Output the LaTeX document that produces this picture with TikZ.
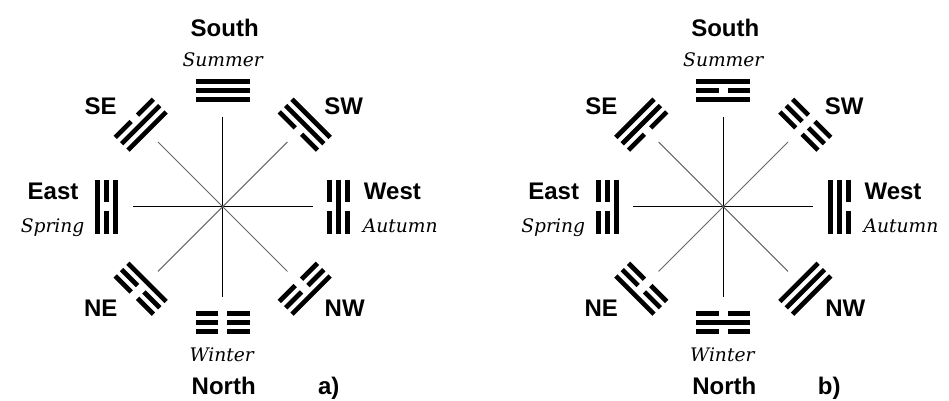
\documentclass[tikz,border=0pt]{standalone}
\usepackage{fontspec}
\setmainfont{Liberation Sans}
\newfontfamily\seasonfont{DejaVu Serif}

\tikzset{
  dir/.style={font=\fontsize{18}{20}\selectfont\bfseries, inner sep=0pt},
  season/.style={font=\seasonfont\itshape\fontsize{14}{16}\selectfont, inner sep=0pt},
  spoke/.style={line width=0.75pt},
  diag/.style={line width=0.75pt, black!60},
  yao/.style={line width=3.5pt}
}

% trigram round centre #1 at angle #2, lines #3 #4 #5 from inside out (1 whole, 0 broken)
\newcommand{\trigram}[5]{%
  \begin{scope}[shift={(#1)}, rotate=#2-90]
    \foreach \s [count=\i] in {#3,#4,#5}{
      \pgfmathsetmacro{\rad}{98+9*\i}
      \ifnum\s=1
        \draw[yao] (-27,\rad) -- (27,\rad);
      \else
        \draw[yao] (-27,\rad) -- (-4.5,\rad) (4.5,\rad) -- (27,\rad);
      \fi
    }
  \end{scope}}

\begin{document}
\begin{tikzpicture}[x=0.75pt, y=0.75pt]
  \useasboundingbox (0,0) rectangle (949,400);
  \coordinate (ca) at (222.7,193.3);
  \coordinate (cb) at (723.3,193.3);

  % spokes and labels, same in both
  \foreach \c/\tag in {ca/a), cb/b)}{
    \foreach \a in {0,90,180,270}
      \draw[spoke] (\c) -- ++(\a:90);
    \foreach \a in {45,135,225,315}
      \draw[diag] (\c) -- ++(\a:91.5);
    \node[dir, anchor=base] (\c-s) at ([shift={(2,170)}]\c) {South};
    \node[season, anchor=base] (\c-su) at ([shift={(0,140)}]\c) {Summer};
    \node[dir, anchor=base] (\c-se) at ([shift={(-122,92)}]\c) {SE};
    \node[dir, anchor=base] (\c-sw) at ([shift={(121,92)}]\c) {SW};
    \node[dir, anchor=base east] (\c-e) at ([shift={(-144,7)}]\c) {East};
    \node[season, anchor=base east] (\c-sp) at ([shift={(-138,-26)}]\c) {Spring};
    \node[dir, anchor=base west] (\c-w) at ([shift={(141,7)}]\c) {West};
    \node[season, anchor=base west] (\c-au) at ([shift={(140,-26)}]\c) {Autumn};
    \node[dir, anchor=base] (\c-ne) at ([shift={(-122,-110)}]\c) {NE};
    \node[dir, anchor=base] (\c-nw) at ([shift={(122,-110)}]\c) {NW};
    \node[season, anchor=base] (\c-wi) at ([shift={(-1,-155)}]\c) {Winter};
    \node[dir, anchor=base] (\c-n) at ([shift={(1,-188)}]\c) {North};
    \node[dir, anchor=base] (\c-tag) at ([shift={(106,-188)}]\c) {\tag};
  }

  % a)
  \trigram{ca}{90}{1}{1}{1}
  \trigram{ca}{270}{0}{0}{0}
  \trigram{ca}{180}{1}{0}{1}
  \trigram{ca}{0}{0}{1}{0}
  \trigram{ca}{135}{1}{1}{0}
  \trigram{ca}{45}{0}{1}{1}
  \trigram{ca}{225}{1}{0}{0}
  \trigram{ca}{315}{0}{0}{1}

  % b)
  \trigram{cb}{90}{1}{0}{1}
  \trigram{cb}{270}{0}{1}{0}
  \trigram{cb}{180}{1}{0}{0}
  \trigram{cb}{0}{1}{1}{0}
  \trigram{cb}{135}{0}{1}{1}
  \trigram{cb}{45}{0}{0}{0}
  \trigram{cb}{225}{0}{0}{1}
  \trigram{cb}{315}{1}{1}{1}
\end{tikzpicture}
\end{document}
